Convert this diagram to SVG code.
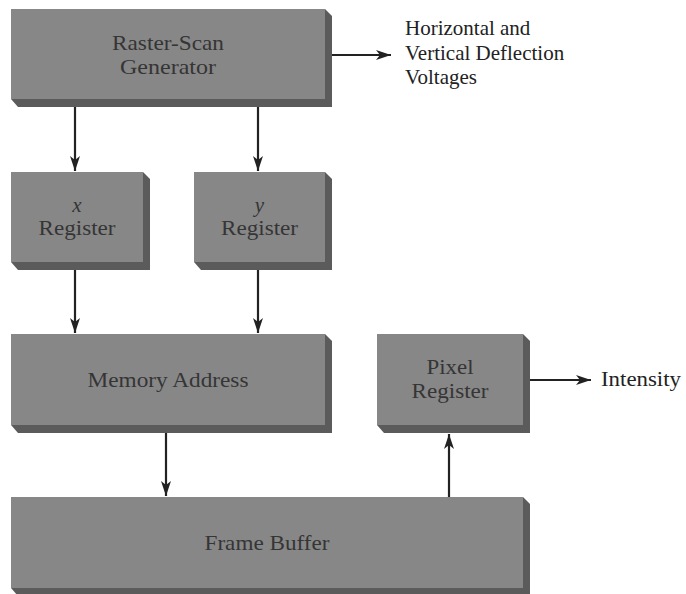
<svg xmlns="http://www.w3.org/2000/svg" width="686" height="594" viewBox="0 0 686 594">
  <defs>
    <marker id="arrow" markerUnits="userSpaceOnUse" markerWidth="18" markerHeight="12" refX="15" refY="6" orient="auto">
      <path d="M15,6 L0,1 L4,6 L0,11 Z" fill="#222"/>
    </marker>
  </defs>
  <style>
    .front { fill: #878787; }
    .side { fill: #5b5b5b; }
    .lbl { font-family: "Liberation Serif", "Times New Roman", serif; font-size: 21px; fill: #353535; text-anchor: middle; }
    .ext { font-family: "Liberation Serif", "Times New Roman", serif; font-size: 21px; fill: #222; }
    .wire { stroke: #222; stroke-width: 2.2; fill: none; marker-end: url(#arrow); }
  </style>

  <rect width="686" height="594" fill="#fff"/>

  <!-- Raster-scan generator -->
  <g id="raster-scan-generator">
    <polygon class="side" points="325,9 332,16 332,107 18,107 11,99"/>
    <rect class="front" x="11" y="9" width="314" height="90"/>
    <text class="lbl" x="168" y="50" textLength="112" lengthAdjust="spacingAndGlyphs">Raster-Scan</text>
    <text class="lbl" x="168" y="74" textLength="96" lengthAdjust="spacingAndGlyphs">Generator</text>
  </g>

  <!-- x register -->
  <g id="x-register">
    <polygon class="side" points="143,172 150,179 150,270 18,270 11,262"/>
    <rect class="front" x="11" y="172" width="132" height="90"/>
    <text class="lbl" x="77" y="212" font-style="italic">x</text>
    <text class="lbl" x="77" y="235" textLength="77" lengthAdjust="spacingAndGlyphs">Register</text>
  </g>

  <!-- y register -->
  <g id="y-register">
    <polygon class="side" points="325,172 332,179 332,270 201,270 194,262"/>
    <rect class="front" x="194" y="172" width="131" height="90"/>
    <text class="lbl" x="259.5" y="212" font-style="italic">y</text>
    <text class="lbl" x="259.5" y="235" textLength="77" lengthAdjust="spacingAndGlyphs">Register</text>
  </g>

  <!-- Memory address -->
  <g id="memory-address">
    <polygon class="side" points="325,334 332,341 332,433 18,433 11,425"/>
    <rect class="front" x="11" y="334" width="314" height="91"/>
    <text class="lbl" x="168" y="387" textLength="161" lengthAdjust="spacingAndGlyphs">Memory Address</text>
  </g>

  <!-- Pixel register -->
  <g id="pixel-register">
    <polygon class="side" points="523,334 530,341 530,433 384,433 377,425"/>
    <rect class="front" x="377" y="334" width="146" height="91"/>
    <text class="lbl" x="450" y="374" textLength="47" lengthAdjust="spacingAndGlyphs">Pixel</text>
    <text class="lbl" x="450" y="398" textLength="77" lengthAdjust="spacingAndGlyphs">Register</text>
  </g>

  <!-- Frame buffer -->
  <g id="frame-buffer">
    <polygon class="side" points="523,497 530,504 530,596 18,596 11,588"/>
    <rect class="front" x="11" y="497" width="512" height="91"/>
    <text class="lbl" x="267" y="550" textLength="125" lengthAdjust="spacingAndGlyphs">Frame Buffer</text>
  </g>

  <!-- Output labels -->
  <g id="deflection-output">
    <text class="ext" x="405" y="35">Horizontal and</text>
    <text class="ext" x="405" y="60">Vertical Deflection</text>
    <text class="ext" x="405" y="84">Voltages</text>
  </g>
  <g id="intensity-output">
    <text class="ext" x="601" y="386" textLength="80" lengthAdjust="spacingAndGlyphs">Intensity</text>
  </g>

  <!-- Connectors -->
  <g id="connectors">
    <line class="wire" x1="75" y1="107" x2="75" y2="171"/>
    <line class="wire" x1="258" y1="107" x2="258" y2="171"/>
    <line class="wire" x1="75" y1="270" x2="75" y2="333"/>
    <line class="wire" x1="258" y1="270" x2="258" y2="333"/>
    <line class="wire" x1="166" y1="433" x2="166" y2="496"/>
    <line class="wire" x1="449" y1="497" x2="449" y2="434"/>
    <line class="wire" x1="332" y1="55" x2="391" y2="55"/>
    <line class="wire" x1="530" y1="380" x2="591" y2="380"/>
  </g>
</svg>
